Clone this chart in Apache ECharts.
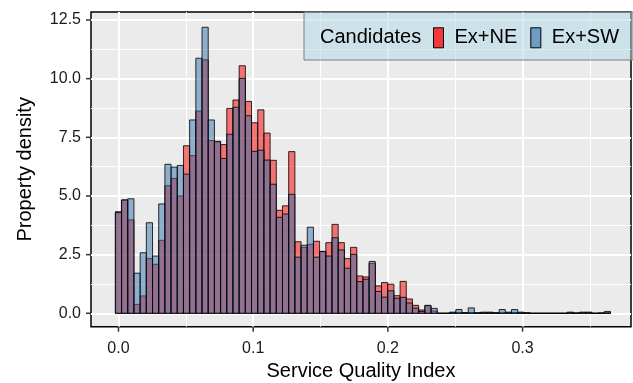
<!DOCTYPE html>
<html><head><meta charset="utf-8">
<script src="https://cdn.jsdelivr.net/npm/echarts@6/dist/echarts.min.js"></script>
<style>html,body{margin:0;padding:0;background:#fff}#c{width:633px;height:383px}</style>
</head><body><div id="c"></div>
<script>
const seriesNames = ['Ex+NE', 'Ex+SW'];
const legendTitle = 'Candidates';
const xTitle = 'Service Quality Index';
const yTitle = 'Property density';
const binWidth = 0.004595;
const exNE = [4.33,4.83,3.98,0.38,0.74,2.33,2.09,3.11,5.44,5.75,
  5.00,7.14,6.72,8.62,10.80,7.36,7.31,7.19,8.73,9.09,
  10.55,9.03,8.12,8.67,7.68,6.52,4.39,4.58,6.89,3.05,
  2.81,2.94,3.07,2.64,3.01,3.79,3.01,2.33,2.81,1.59,
  1.55,2.13,1.17,1.31,1.24,0.75,1.36,0.61,0.34,0.14,
  0.32,0.10,0,0,0.03,0.03,0.02,0.03,0.02,0.05,
  0.05,0.02,0.02,0.03,0.03,0.03,0,0,0,0,
  0,0,0,0.03,0,0.03,0.03,0,0,0.03];
const exSW = [4.29,4.83,4.88,1.71,2.58,3.86,2.44,4.66,6.35,6.23,
  6.30,5.93,8.24,10.87,12.19,8.24,7.33,6.60,7.63,8.78,
  10.01,8.42,6.90,6.95,6.53,5.50,4.09,4.23,5.07,2.39,
  2.90,3.67,2.39,2.63,2.44,3.22,2.70,1.92,2.51,1.35,
  1.45,2.21,0.93,0.69,0.96,0.64,0.68,0.44,0.22,0.08,
  0.34,0.21,0,0,0.05,0.16,0.03,0.23,0.02,0.02,
  0.02,0.02,0.16,0.05,0.16,0.05,0.03,0,0,0,
  0,0,0,0.05,0.02,0.05,0.05,0,0.02,0.08];
const xTicks = [0, 0.1, 0.2, 0.3];
const xMinorTicks = [0.05, 0.15, 0.25, 0.35];
const yTicks = [0, 2.5, 5, 7.5, 10, 12.5];
const yMinorTicks = [1.25, 3.75, 6.25, 8.75, 11.25];

const FONT = '"Liberation Sans", Arial, Helvetica, sans-serif';
const fills = ['rgba(248,12,12,0.55)', 'rgba(51,113,171,0.5)'];
const keyFills = ['#F5363A', '#6F9CC4'];
const binCenters = exNE.map((_, i) => i * binWidth);
const TICK_LEN = 5;

function makeRender(fill) {
  return function (params, api) {
    const c = api.value(0), v = api.value(1);
    const p0 = api.coord([c - binWidth / 2, v]);
    const p1 = api.coord([c + binWidth / 2, 0]);
    return {
      type: 'rect',
      shape: { x: p0[0], y: p0[1], width: p1[0] - p0[0], height: p1[1] - p0[1] },
      style: { fill: fill, stroke: 'rgba(0,0,0,0.9)', lineWidth: 0.9 }
    };
  };
}

const X_MIN = -0.0204, X_MAX = 0.3805, Y_MIN = -0.571, Y_MAX = 12.84;

const baseGraphic = [
  { id: 'legbox', type: 'rect', z: 3, shape: { x: 304, y: 12, width: 329, height: 48 },
    style: { fill: 'rgba(173,216,230,0.5)', stroke: '#7f7f7f', lineWidth: 1 } },
  { id: 'legtitle', type: 'text', z: 5, x: 320, y: 37.3,
    style: { text: legendTitle, fontSize: 20, fill: '#000', fontFamily: FONT, verticalAlign: 'middle', align: 'left' } }
];

const chart = echarts.init(document.getElementById('c'), null, { renderer: 'canvas' });
chart.setOption({
  animation: false,
  backgroundColor: '#fff',
  textStyle: { fontFamily: FONT },
  grid: { left: 91, right: 2, top: 12, bottom: 56.3, show: true, backgroundColor: '#EBEBEB',
          borderColor: '#000', borderWidth: 1.5, containLabel: false, outerBoundsMode: 'none' },
  xAxis: [
    { type: 'value', min: X_MIN, max: X_MAX, position: 'bottom',
      axisLine: { show: false, onZero: false },
      axisTick: { show: false, customValues: xTicks },
      axisLabel: { customValues: xTicks, formatter: v => v.toFixed(1), color: '#1a1a1a', fontSize: 16, margin: 14, fontFamily: FONT },
      splitLine: { show: true, lineStyle: { color: '#fff', width: 2 } },
      name: xTitle, nameLocation: 'middle', nameGap: 35,
      nameTextStyle: { fontSize: 20, color: '#000', fontFamily: FONT } },
    { type: 'value', min: X_MIN, max: X_MAX, position: 'bottom',
      axisLine: { show: false, onZero: false }, axisLabel: { show: false, customValues: xMinorTicks },
      axisTick: { show: false, customValues: xMinorTicks },
      splitLine: { show: true, lineStyle: { color: '#fff', width: 1 } } }
  ],
  yAxis: [
    { type: 'value', min: Y_MIN, max: Y_MAX, position: 'left',
      axisLine: { show: false, onZero: false },
      axisTick: { show: false, customValues: yTicks },
      axisLabel: { customValues: yTicks, formatter: v => v.toFixed(1), color: '#1a1a1a', fontSize: 16, margin: 10, fontFamily: FONT },
      splitLine: { show: true, lineStyle: { color: '#fff', width: 2 } },
      name: yTitle, nameLocation: 'middle', nameGap: 56, nameRotate: 90,
      nameTextStyle: { fontSize: 20, color: '#000', fontFamily: FONT } },
    { type: 'value', min: Y_MIN, max: Y_MAX, position: 'left',
      axisLine: { show: false, onZero: false }, axisLabel: { show: false, customValues: yMinorTicks },
      axisTick: { show: false, customValues: yMinorTicks },
      splitLine: { show: true, lineStyle: { color: '#fff', width: 1 } } }
  ],
  legend: {
    left: 433, top: 27.3, orient: 'horizontal', padding: 0,
    itemWidth: 10, itemHeight: 20, itemGap: 13, selectedMode: false, icon: 'rect',
    textStyle: { fontSize: 20, color: '#000', fontFamily: FONT, padding: [0, 0, 0, 6] },
    data: seriesNames.map((n, i) => ({ name: n, itemStyle: { color: keyFills[i], borderColor: '#000', borderWidth: 1 } }))
  },
  graphic: baseGraphic,
  series: [exNE, exSW].map((vals, s) => ({
    type: 'custom', name: seriesNames[s], xAxisIndex: 0, yAxisIndex: 0,
    itemStyle: { color: keyFills[s] },
    renderItem: makeRender(fills[s]),
    encode: { x: 0, y: 1 },
    data: binCenters.map((c, i) => [c, vals[i]])
  }))
});

// tick marks, placed with the chart's own coordinate conversion
const tickEls = [];
xTicks.forEach((v, i) => {
  const p = chart.convertToPixel({ gridIndex: 0 }, [v, Y_MIN]);
  tickEls.push({ id: 'xt' + i, type: 'line', z: 6,
    shape: { x1: p[0], y1: p[1], x2: p[0], y2: p[1] + TICK_LEN },
    style: { stroke: '#333', lineWidth: 1.5 } });
});
yTicks.forEach((v, i) => {
  const p = chart.convertToPixel({ gridIndex: 0 }, [X_MIN, v]);
  tickEls.push({ id: 'yt' + i, type: 'line', z: 6,
    shape: { x1: p[0] - TICK_LEN, y1: p[1], x2: p[0], y2: p[1] },
    style: { stroke: '#333', lineWidth: 1.5 } });
});
chart.setOption({ graphic: baseGraphic.concat(tickEls) });
</script></body></html>
